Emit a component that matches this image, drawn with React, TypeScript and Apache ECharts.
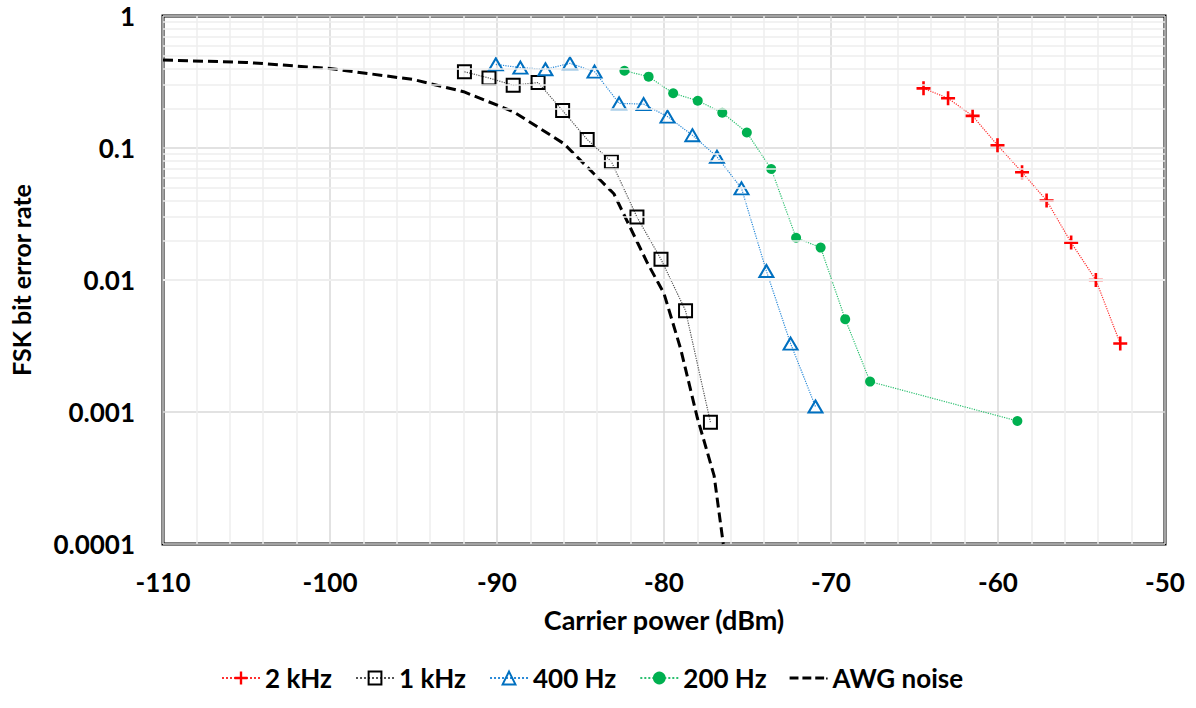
import React, { useEffect, useRef } from "react";
import * as echarts from "echarts";

const khz2X = [-64.46, -62.99, -61.52, -60.03, -58.56, -57.09, -55.62, -54.14, -52.68];
const khz2Y = [0.283, 0.238, 0.175, 0.105, 0.0655, 0.04, 0.0192, 0.01, 0.0033];

const khz1X = [-91.95, -90.48, -89.03, -87.54, -86.07, -84.6, -83.15, -81.62, -80.18, -78.71, -77.22];
const khz1Y = [0.378, 0.339, 0.299, 0.313, 0.192, 0.116, 0.0788, 0.03, 0.01435, 0.00586, 0.000836];

const hz400X = [-90.07, -88.6, -87.1, -85.63, -84.16, -82.69, -81.22, -79.79, -78.3, -76.83, -75.36, -73.87, -72.42, -70.93];
const hz400Y = [0.43, 0.406, 0.395, 0.438, 0.379, 0.218, 0.215, 0.173, 0.125, 0.0859, 0.0495, 0.0117, 0.0033, 0.0011];

const hz200X = [-82.37, -80.92, -79.45, -77.98, -76.51, -75.04, -73.58, -72.09, -70.62, -69.15, -67.66, -58.84];
const hz200Y = [0.385, 0.347, 0.26, 0.228, 0.185, 0.131, 0.0693, 0.0209, 0.0176, 0.00505, 0.0017, 0.000855];

const awgX = [-110, -105, -100, -95, -92, -89, -86, -83, -81, -80, -79, -78, -77, -76.45];
const awgY = [0.464, 0.445, 0.4, 0.33, 0.267, 0.188, 0.108, 0.045, 0.0135, 0.0079, 0.003, 0.0009, 0.00033, 0.0001];

const seriesNames = ["2 kHz", "1 kHz", "400 Hz", "200 Hz", "AWG noise"];
const yTickLabels = ["0.0001", "0.001", "0.01", "0.1", "1"];
const minorYValues = [
  0.0002, 0.0003, 0.0004, 0.0005, 0.0006, 0.0007, 0.0008, 0.0009,
  0.002, 0.003, 0.004, 0.005, 0.006, 0.007, 0.008, 0.009,
  0.02, 0.03, 0.04, 0.05, 0.06, 0.07, 0.08, 0.09,
  0.2, 0.3, 0.4, 0.5, 0.6, 0.7, 0.8, 0.9,
];
const xAxisTitle = "Carrier power (dBm)";
const yAxisTitle = "FSK bit error rate";

const FONT = "Lato, 'Open Sans', sans-serif";

const zip = (xs: number[], ys: number[]) => xs.map((x, i) => [x, ys[i]]);

export default function App() {
  const ref = useRef<HTMLDivElement>(null);
  useEffect(() => {
    if (!ref.current) return;
    const chart = echarts.init(ref.current, undefined, { renderer: "svg" });
    const plusPath = "path://M5.7,0H8.3V5.7H14V8.3H8.3V14H5.7V8.3H0V5.7H5.7Z";
    const dashIcon = "path://M0,6.5H9V9.5H0Z M13,6.5H22V9.5H13Z M26,6.5H35V9.5H26Z M37,7.5H38.5V9.5H37Z";
    chart.setOption({
      animation: false,
      backgroundColor: "#ffffff",
      textStyle: { fontFamily: FONT },
      grid: {
        left: 160,
        right: 31,
        top: 16,
        bottom: 164,
        show: true,
        borderColor: "#000",
        borderWidth: 3,
        backgroundColor: "transparent",
      },
      legend: {
        data: [
          seriesNames[0],
          seriesNames[1],
          seriesNames[2],
          seriesNames[3],
          { name: seriesNames[4], icon: dashIcon },
        ],
        left: 216,
        top: 660,
        itemWidth: 38,
        itemHeight: 16,
        itemGap: 23,
        textStyle: { fontFamily: FONT, fontWeight: "bold", fontSize: 26, color: "#000" },
      },
      xAxis: {
        type: "value",
        min: -110,
        max: -50,
        interval: 10,
        name: xAxisTitle,
        nameLocation: "middle",
        nameGap: 62,
        nameTextStyle: { fontFamily: FONT, fontWeight: "bold", fontSize: 27, color: "#000" },
        axisLine: { show: false },
        axisTick: { show: false },
        axisLabel: { fontFamily: FONT, fontWeight: "bold", fontSize: 26, color: "#000", margin: 25 },
        splitLine: { show: true, lineStyle: { color: "#d9d9d9", width: 1.5 } },
        minorTick: { show: false, splitNumber: 5 },
        minorSplitLine: { show: true, lineStyle: { color: "#eeeeee", width: 1.5 } },
      },
      yAxis: {
        type: "log",
        logBase: 10,
        min: 0.0001,
        max: 1,
        name: yAxisTitle,
        nameLocation: "middle",
        nameGap: 130,
        nameTextStyle: { fontFamily: FONT, fontWeight: "bold", fontSize: 25, color: "#000" },
        axisLine: { show: false },
        axisTick: { show: false },
        axisLabel: {
          fontFamily: FONT,
          fontWeight: "bold",
          fontSize: 26,
          color: "#000",
          margin: 28,
          formatter: (v: number) => yTickLabels[Math.round(Math.log10(v)) + 4] ?? "",
        },
        splitLine: { show: true, lineStyle: { color: "#d9d9d9", width: 1.5 } },
      },
      series: [
        {
          name: "minor-grid",
          type: "line",
          data: [],
          z: 1,
          silent: true,
          markLine: {
            silent: true,
            symbol: ["none", "none"],
            label: { show: false },
            emphasis: { disabled: true },
            lineStyle: { type: "solid", color: "#eeeeee", width: 1.5 },
            data: minorYValues.map((v) => ({ yAxis: v })),
          },
        },
        {
          name: seriesNames[0],
          type: "line",
          data: zip(khz2X, khz2Y),
          symbol: plusPath,
          symbolSize: 14,
          itemStyle: { color: "#ff0000" },
          lineStyle: { color: "#ff3030", width: 1.2, type: "dotted" },
          z: 3,
        },
        {
          name: seriesNames[1],
          type: "line",
          data: zip(khz1X, khz1Y),
          symbol: "rect",
          symbolSize: 13,
          itemStyle: { color: "rgba(255,255,255,0)", borderColor: "#000", borderWidth: 2 },
          lineStyle: { color: "#555555", width: 1.2, type: "dotted" },
          z: 3,
        },
        {
          name: seriesNames[2],
          type: "line",
          data: zip(hz400X, hz400Y),
          symbol: "triangle",
          symbolSize: [14, 12],
          itemStyle: { color: "rgba(255,255,255,0)", borderColor: "#0070c0", borderWidth: 2 },
          lineStyle: { color: "#2a8ad8", width: 1.2, type: "dotted" },
          z: 3,
        },
        {
          name: seriesNames[3],
          type: "line",
          data: zip(hz200X, hz200Y),
          symbol: "circle",
          symbolSize: 10,
          itemStyle: { color: "#00b050" },
          lineStyle: { color: "#2cc070", width: 1.2, type: "dotted" },
          z: 3,
        },
        {
          name: seriesNames[4],
          type: "line",
          data: zip(awgX, awgY),
          symbol: "none",
          itemStyle: { color: "#000" },
          lineStyle: { color: "#000", width: 3, type: [10, 5] },
          z: 4,
        },
      ],
    });
    return () => chart.dispose();
  }, []);
  return (
    <div
      ref={ref}
      style={{ position: "fixed", left: 0, top: 0, width: 1196, height: 708, background: "#fff" }}
    />
  );
}
